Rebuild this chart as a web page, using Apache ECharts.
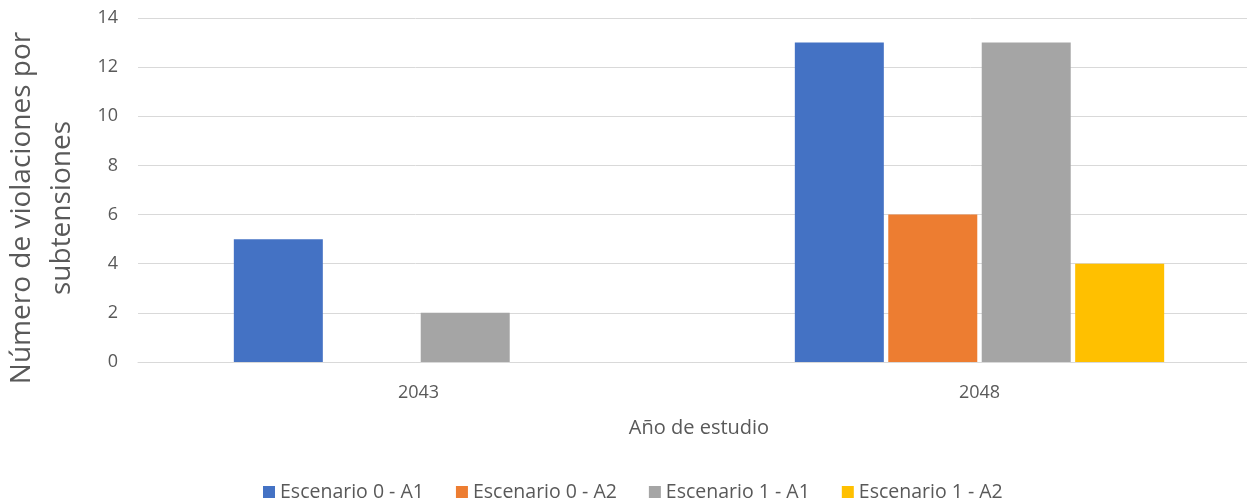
<!DOCTYPE html>
<html>
<head>
<meta charset="utf-8">
<script src="https://cdn.jsdelivr.net/npm/echarts@6/dist/echarts.min.js"></script>
<style>
html,body{margin:0;padding:0;background:#fff;}
#chart{width:1247px;height:500px;}
</style>
</head>
<body>
<div id="chart"></div>
<script>
var categories = ['2043', '2048'];
var seriesNames = ['Escenario 0 - A1', 'Escenario 0 - A2', 'Escenario 1 - A1', 'Escenario 1 - A2'];
var esc0A1 = [5, 13];
var esc0A2 = [0, 6];
var esc1A1 = [2, 13];
var esc1A2 = [0, 4];
var colors = ['#4472C4', '#ED7D31', '#A5A5A5', '#FFC000'];
var yTitle = 'Número de violaciones por\nsubtensiones';
var xTitle = 'Año de estudio';

var font = 'Open Sans';
var txt = '#595959';
var values = [esc0A1, esc0A2, esc1A1, esc1A2];

var chart = echarts.init(document.getElementById('chart'));
chart.setOption({
  animation: false,
  color: colors,
  textStyle: {fontFamily: font},
  grid: {left: 138, width: 1122, top: 18, height: 344, containLabel: false, outerBoundsMode: 'none'},
  legend: {
    data: seriesNames,
    top: 482,
    left: 263,
    padding: 0,
    itemWidth: 12, itemHeight: 12, itemGap: 32,
    icon: 'rect',
    textStyle: {fontFamily: font, fontSize: 19.5, color: txt}
  },
  graphic: [{
    type: 'text',
    x: 42, y: 208,
    rotation: Math.PI / 2,
    style: {
      text: yTitle,
      fontFamily: font,
      fontSize: 28,
      fill: txt,
      textAlign: 'center',
      textVerticalAlign: 'middle',
      lineHeight: 40
    }
  }],
  xAxis: {
    type: 'category',
    data: categories,
    name: xTitle,
    nameLocation: 'middle',
    nameGap: 56,
    nameTextStyle: {fontFamily: font, fontSize: 20, color: txt},
    axisLine: {show: true, lineStyle: {color: '#D9D9D9', width: 1}},
    axisTick: {show: false},
    axisLabel: {fontFamily: font, fontSize: 18, color: txt, margin: 22}
  },
  yAxis: {
    type: 'value',
    min: 0, max: 14, interval: 2,
    axisLine: {show: false},
    axisTick: {show: false},
    axisLabel: {fontFamily: font, fontSize: 18, color: txt, margin: 20},
    splitLine: {lineStyle: {color: '#D9D9D9', width: 1}}
  },
  series: seriesNames.map(function (n, i) {
    return {
      name: n,
      type: 'bar',
      data: values[i],
      barWidth: 89,
      barGap: '5%',
      itemStyle: {color: colors[i]}
    };
  })
});
</script>
</body>
</html>
